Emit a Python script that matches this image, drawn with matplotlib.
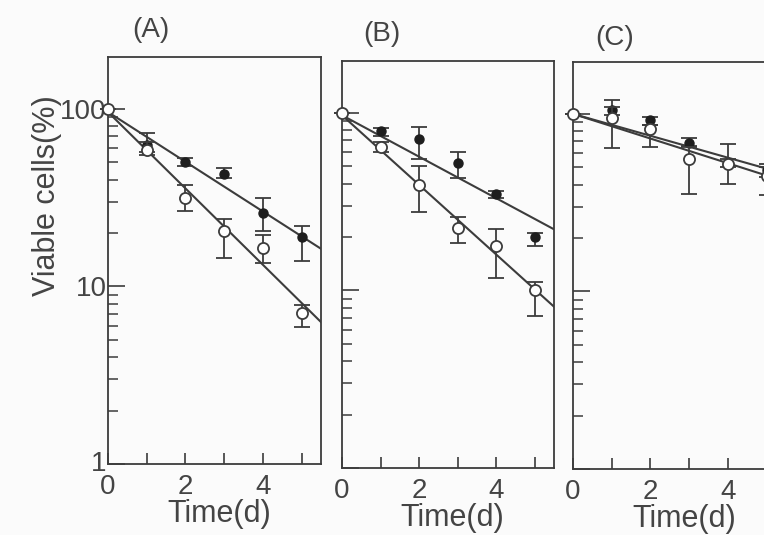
import matplotlib
matplotlib.use("Agg")
import matplotlib.pyplot as plt
from matplotlib.ticker import FixedLocator, LogLocator, NullFormatter, FixedFormatter

# ---------------- data ----------------
days = [0, 1, 2, 3, 4, 5]
panels = ["(A)", "(B)", "(C)"]

A_filled    = [100, 63, 50, 43, 26, 19]
A_filled_lo = [100, 57, 47.5, 41, 20.5, 14]
A_filled_hi = [100, 73, 53, 46.5, 31.5, 22]
A_open      = [100, 59, 31.5, 20.5, 16.5, 7.1]
A_open_lo   = [100, 55, 26.5, 14.5, 13.5, 5.9]
A_open_hi   = [100, 65, 37.5, 24, 19.4, 7.9]

B_filled    = [100, 79, 71, 52, 35, 20]
B_filled_lo = [100, 74, 55, 43, 33, 17.7]
B_filled_hi = [100, 82, 83, 60, 36.5, 21.2]
B_open      = [100, 64, 39.5, 22.6, 17.7, 10]
B_open_lo   = [100, 60.5, 27.5, 18.4, 11.7, 7.2]
B_open_hi   = [100, 69, 50, 26, 22.2, 11.1]

C_filled    = [100, 105, 92, 69, 53, 48]
C_filled_lo = [100, 98, 87, 66, 50, 44]
C_filled_hi = [100, 119, 96, 73, 56, 52]
C_open      = [100, 95, 82, 56, 52, 44.5]
C_open_lo   = [100, 64, 65, 35.5, 40.5, 35]
C_open_hi   = [100, 110, 87, 65, 68, 50]

fit_t = [0, 5.5]
A_fit_filled = [96, 16.3]
A_fit_open   = [96, 6.3]
B_fit_filled = [97, 22.1]
B_fit_open   = [97, 8.1]
C_fit_filled = [100, 45.8]
C_fit_open   = [100, 41.5]

x_ticks = [0, 2, 4]
x_minor = [1, 3, 5]
y_ticks = [1, 10, 100]
y_ticklabels = ["1", "10", "100"]

series = [
    (A_filled, A_filled_lo, A_filled_hi, A_open, A_open_lo, A_open_hi, A_fit_filled, A_fit_open),
    (B_filled, B_filled_lo, B_filled_hi, B_open, B_open_lo, B_open_hi, B_fit_filled, B_fit_open),
    (C_filled, C_filled_lo, C_filled_hi, C_open, C_open_lo, C_open_hi, C_fit_filled, C_fit_open),
]

# ---------------- style ----------------
FONT = ["Liberation Sans", "DejaVu Sans"]
plt.rcParams['font.family'] = FONT
INK = "#3c3c3c"
TXT = "#444444"
BG = "#fbfbfb"

W, H = 764, 535
fig = plt.figure(figsize=(W / 100, H / 100), dpi=100, facecolor=BG)

# axes boxes in pixel coordinates (left, top, right, bottom)
boxes = [(108, 57, 321, 464), (342, 61, 554, 468), (573, 62, 786, 469)]
title_pos = [(151, 30), (382, 34), (615, 38)]
xlabel_x = [0.52, 0.52, 0.52]

for i, (box, s) in enumerate(zip(boxes, series)):
    l, t, r, b = box
    ax = fig.add_axes([l / W, 1 - b / H, (r - l) / W, (b - t) / H])
    ax.set_facecolor(BG)
    ax.set_yscale('log')
    ax.set_xlim(0, 5.5)
    ax.set_ylim(1, 196)
    for sp in ax.spines.values():
        sp.set_color(INK)
        sp.set_linewidth(1.3)

    f, flo, fhi, o, olo, ohi, ffit, ofit = s

    ax.plot(fit_t, ffit, color=INK, lw=1.5, zorder=2)
    ax.plot(fit_t, ofit, color=INK, lw=1.5, zorder=2)

    ferr = [[fv - lo for fv, lo in zip(f, flo)], [hi - fv for fv, hi in zip(f, fhi)]]
    oerr = [[ov - lo for ov, lo in zip(o, olo)], [hi - ov for ov, hi in zip(o, ohi)]]
    ax.errorbar(days[1:], f[1:], yerr=[ferr[0][1:], ferr[1][1:]], fmt='o', ms=6.5,
                color='#1e1e1e', mfc='#1e1e1e', mec='#1e1e1e', ecolor=INK,
                elinewidth=1.3, capsize=6, capthick=1.3, zorder=4)
    ax.errorbar(days, o, yerr=oerr, fmt='o', ms=8, mfc='white', mec=INK, mew=1.3,
                ecolor=INK, elinewidth=1.3, capsize=6, capthick=1.3, zorder=5,
                clip_on=False)

    ax.xaxis.set_major_locator(FixedLocator(x_ticks))
    ax.xaxis.set_minor_locator(FixedLocator(x_minor))
    ax.tick_params(axis='x', which='both', direction='in', length=8, width=1.2,
                   color=INK, labelsize=20, labelcolor=TXT, pad=7)
    ax.yaxis.set_major_locator(FixedLocator(y_ticks))
    ax.yaxis.set_minor_locator(LogLocator(base=10, subs=range(2, 10)))
    ax.yaxis.set_minor_formatter(NullFormatter())
    ax.tick_params(axis='y', which='major', direction='in', length=12, width=1.2, color=INK)
    ax.tick_params(axis='y', which='minor', direction='in', length=7, width=1.1, color=INK)
    if i == 0:
        ax.yaxis.set_major_formatter(FixedFormatter(y_ticklabels))
        ax.tick_params(axis='y', which='major', labelsize=20, labelcolor=TXT, pad=1)
        ax.set_ylabel("Viable cells(%)", fontsize=22, color=TXT)
        ax.yaxis.label.set_va('center')
        ax.yaxis.set_label_coords(-0.285, 0.66)
    else:
        ax.yaxis.set_major_formatter(NullFormatter())
    ax.set_xlabel("Time(d)", fontsize=22, color=TXT)
    ax.xaxis.label.set_va('center')
    ax.xaxis.set_label_coords(xlabel_x[i], -0.124)
    tx, ty = title_pos[i]
    fig.text(tx / W, 1 - ty / H, panels[i], fontsize=20, color=TXT,
             ha='center', va='center')

    if i == 0:
        fig.canvas.draw()
        for lab in ax.get_yticklabels():
            if lab.get_text() == "1":
                lab.set_y(1.1)
                lab.set_va('center')

fig.savefig("out.png", dpi=100, facecolor=BG)
